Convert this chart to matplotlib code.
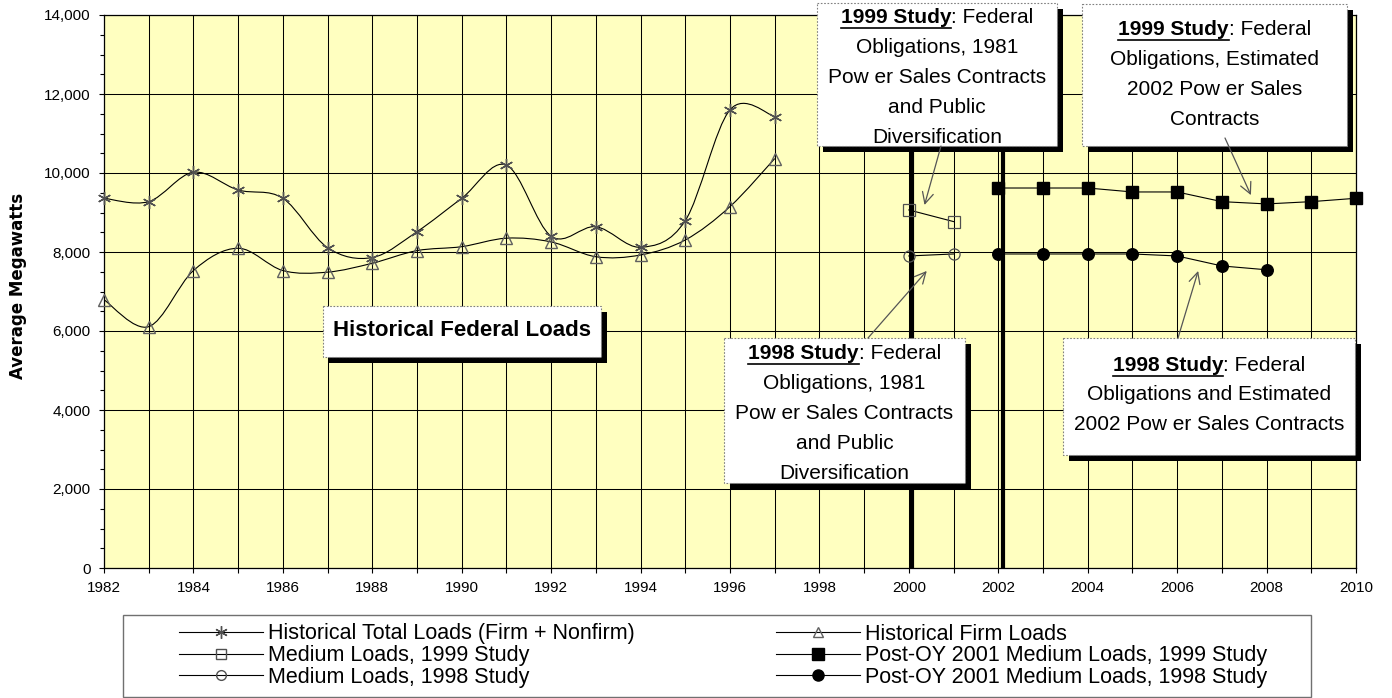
import matplotlib
matplotlib.use('Agg')
import matplotlib.pyplot as plt
import numpy as np
from matplotlib.path import Path
from matplotlib.patches import PathPatch, Rectangle
from matplotlib.lines import Line2D
from matplotlib.transforms import Affine2D

plt.rcParams['font.family'] = ['Liberation Sans', 'DejaVu Sans']

W, H = 1392, 698

# ---------------- data ----------------
hist_years = list(range(1982, 1998))
hist_total = [9360, 9275, 10020, 9570, 9360, 8110, 7860, 8515, 9360, 10200,
              8400, 8640, 8120, 8795, 11600, 11430]
hist_firm = [6790, 6110, 7530, 8095, 7530, 7490, 7715, 8035, 8135, 8350,
             8255, 7880, 7925, 8305, 9150, 10365]

med99_years = [2000, 2001]
med99 = [9065, 8770]
med98_years = [2000, 2001]
med98 = [7900, 7950]

post99_years = list(range(2002, 2011))
post99 = [9620, 9620, 9620, 9520, 9520, 9275, 9217, 9275, 9360]
post98_years = list(range(2002, 2009))
post98 = [7950, 7950, 7950, 7950, 7900, 7647, 7550]

divider_years = [2000.06, 2002.1]

x_ticks = list(range(1982, 2011))
x_labels = [str(y) if y % 2 == 0 else '' for y in x_ticks]
y_ticks = [0, 2000, 4000, 6000, 8000, 10000, 12000, 14000]
y_labels = ['0', '2,000', '4,000', '6,000', '8,000', '10,000', '12,000', '14,000']
y_minor = list(range(0, 14001, 500))

series_labels = ['Historical Total Loads (Firm + Nonfirm)',
                 'Medium Loads, 1999 Study',
                 'Medium Loads, 1998 Study',
                 'Historical Firm Loads',
                 'Post-OY 2001 Medium Loads, 1999 Study',
                 'Post-OY 2001 Medium Loads, 1998 Study']

y_title = 'Average Megawatts'

callouts = [
    dict(rect=(817, 3, 1057, 146), bold='1999 Study', rest=': Federal',
         lines=['Obligations, 1981', 'Pow er Sales Contracts', 'and Public', 'Diversification'],
         base0=23, step=30, tip=(2000.35, 9190), tail=(941, 146)),
    dict(rect=(1082, 4, 1347, 146), bold='1999 Study', rest=': Federal',
         lines=['Obligations, Estimated', '2002 Pow er Sales', 'Contracts'],
         base0=35, step=30, tip=(2007.65, 9440), tail=(1225, 138)),
    dict(rect=(724, 338, 965, 483), bold='1998 Study', rest=': Federal',
         lines=['Obligations, 1981', 'Pow er Sales Contracts', 'and Public', 'Diversification'],
         base0=359, step=30, tip=(2000.4, 7520), tail=(868, 338)),
    dict(rect=(1063, 338, 1355, 455), bold='1998 Study', rest=': Federal',
         lines=['Obligations and Estimated', '2002 Pow er Sales Contracts'],
         base0=371, step=29.5, tip=(2006.47, 7520), tail=(1178, 338)),
]
hist_box = dict(rect=(323, 306, 601, 357), text='Historical Federal Loads', base=336)

# ---------------- figure ----------------
fig = plt.figure(figsize=(W / 100, H / 100), dpi=100)
fig.patch.set_facecolor('white')
L, R, T, B = 104, 1356, 15, 568
ax = fig.add_axes([L / W, 1 - B / H, (R - L) / W, (B - T) / H])
ax.set_facecolor('#FFFFC0')
ax.set_xlim(1982, 2010)
ax.set_ylim(0, 14000)
ax.set_axisbelow(True)

ax.set_xticks(x_ticks)
ax.set_xticklabels(x_labels, fontsize=11)
ax.set_yticks(y_ticks)
ax.set_yticklabels(y_labels, fontsize=11)
ax.set_yticks(y_minor, minor=True)
ax.tick_params(axis='both', which='major', direction='out', length=3.6, width=0.8,
               pad=6, colors='black')
ax.tick_params(axis='y', which='minor', direction='out', length=3.0, width=0.8)
ax.grid(True, which='major', color='black', linewidth=0.75)
for s in ax.spines.values():
    s.set_color('black')
    s.set_linewidth(0.9)

ax.set_ylabel(y_title, fontsize=12, fontweight='bold', family='DejaVu Sans')
ax.yaxis.set_label_coords((18 - L) / (R - L), (B - 286) / (B - T))
ax.yaxis.label.set_va('center')

# dividers
for xv in divider_years:
    ax.axvline(xv, color='black', linewidth=3.0, zorder=2)


def smooth_path(xs, ys):
    P = np.column_stack([xs, ys]).astype(float)
    n = len(P)
    verts = [P[0]]
    codes = [Path.MOVETO]
    for i in range(n - 1):
        p0 = P[i - 1] if i > 0 else P[i]
        p1 = P[i]
        p2 = P[i + 1]
        p3 = P[i + 2] if i + 2 < n else P[i + 1]
        c1 = p1 + (p2 - p0) / 6.0
        c2 = p2 - (p3 - p1) / 6.0
        verts += [c1, c2, p2]
        codes += [Path.CURVE4] * 3
    return Path(verts, codes)


line_kw = dict(color='black', linewidth=0.8)
star = (6, 2, 0)

# historical smoothed lines
ax.add_patch(PathPatch(smooth_path(hist_years, hist_total), fill=False, edgecolor='black',
                       linewidth=0.8, zorder=3))
ax.add_patch(PathPatch(smooth_path(hist_years, hist_firm), fill=False, edgecolor='black',
                       linewidth=0.8, zorder=3))
ax.plot(hist_years, hist_total, ls='none', marker=star, ms=9.5, mec='#505050', mew=1.0,
        zorder=4, clip_on=False)
ax.plot(hist_years, hist_firm, ls='none', marker='^', ms=8, mec='#606060', mfc='none',
        mew=1.0, zorder=4, clip_on=False)

ax.plot(med99_years, med99, marker='s', ms=8, mfc='none', mec='#505050', mew=0.9,
        zorder=4, **line_kw)
ax.plot(med98_years, med98, marker='o', ms=8, mfc='none', mec='#505050', mew=0.9,
        zorder=4, **line_kw)
ax.plot(post99_years, post99, marker='s', ms=8.5, mfc='black', mec='black', zorder=4,
        clip_on=False, **line_kw)
ax.plot(post98_years, post98, marker='o', ms=8.3, mfc='black', mec='black', zorder=4,
        clip_on=False, **line_kw)

# ---------------- callouts ----------------
pix = Affine2D().scale(1.0 / W, -1.0 / H).translate(0, 1) + fig.transFigure
renderer = fig.canvas.get_renderer()
FS = 15


def draw_box(rect, z=10):
    x0, y0, x1, y1 = rect
    ax.add_patch(Rectangle((x0 + 6, y0 + 6), x1 - x0, y1 - y0, transform=pix,
                           facecolor='black', edgecolor='none', clip_on=False, zorder=z))
    ax.add_patch(Rectangle((x0, y0), x1 - x0, y1 - y0, transform=pix,
                           facecolor='white', edgecolor='#808080', linewidth=0.8,
                           linestyle=(0, (1.5, 1.5)), clip_on=False, zorder=z + 0.1))


for c in callouts:
    draw_box(c['rect'])
    x0, y0, x1, y1 = c['rect']
    cx = (x0 + x1) / 2.0
    tb = ax.text(0, 0, c['bold'], transform=pix, fontsize=FS, fontweight='bold',
                 ha='left', va='baseline', zorder=11, clip_on=False)
    tr = ax.text(0, 0, c['rest'], transform=pix, fontsize=FS, ha='left',
                 va='baseline', zorder=11, clip_on=False)
    wb = tb.get_window_extent(renderer=renderer).width
    wr = tr.get_window_extent(renderer=renderer).width
    xs = cx - (wb + wr) / 2.0
    tb.set_position((xs, c['base0']))
    tr.set_position((xs + wb, c['base0']))
    ax.add_line(Line2D([xs, xs + wb], [c['base0'] + 4.5, c['base0'] + 4.5], transform=pix,
                       color='black', linewidth=1.2, clip_on=False, zorder=11))
    for k, ln in enumerate(c['lines']):
        ax.text(cx, c['base0'] + c['step'] * (k + 1), ln, transform=pix, fontsize=FS,
                ha='center', va='baseline', zorder=11, clip_on=False)
    ax.annotate('', xy=c['tip'], xycoords='data',
                xytext=(c['tail'][0], H - c['tail'][1]), textcoords='figure pixels',
                arrowprops=dict(arrowstyle='->', color='#555555', lw=0.9,
                                shrinkA=0, shrinkB=0, mutation_scale=20),
                zorder=12, annotation_clip=False)

draw_box(hist_box['rect'])
hx0, hy0, hx1, hy1 = hist_box['rect']
ax.text((hx0 + hx1) / 2.0, hist_box['base'], hist_box['text'], transform=pix, fontsize=16,
        fontweight='bold', ha='center', va='baseline', zorder=11, clip_on=False)

# ---------------- legend ----------------
h_total = Line2D([], [], color='black', lw=0.8, marker=star, ms=9, mec='#505050')
h_med99 = Line2D([], [], color='black', lw=0.8, marker='s', ms=7, mfc='none', mec='#505050')
h_med98 = Line2D([], [], color='black', lw=0.8, marker='o', ms=7, mfc='none', mec='#505050')
h_firm = Line2D([], [], color='black', lw=0.8, marker='^', ms=7, mfc='none', mec='#606060')
h_post99 = Line2D([], [], color='black', lw=0.8, marker='s', ms=8, mfc='black', mec='black')
h_post98 = Line2D([], [], color='black', lw=0.8, marker='o', ms=8, mfc='black', mec='black')

leg_kw = dict(loc='upper left', frameon=False, fontsize=15.5, handlelength=3.9,
              handletextpad=0.25, labelspacing=0.03, borderpad=0, borderaxespad=0,
              numpoints=1)
leg1 = fig.legend(handles=[h_total, h_med99, h_med98], labels=series_labels[0:3],
                  bbox_to_anchor=(179 / W, 1 - 623.5 / H), **leg_kw)
leg2 = fig.legend(handles=[h_firm, h_post99, h_post98], labels=series_labels[3:6],
                  bbox_to_anchor=(776 / W, 1 - 623.5 / H), **leg_kw)
fig.patches.append(Rectangle((123, 615), 1311 - 123, 697 - 615, transform=pix,
                             facecolor='none', edgecolor='#707070', linewidth=1.0))

fig.savefig('out.png', dpi=100)
